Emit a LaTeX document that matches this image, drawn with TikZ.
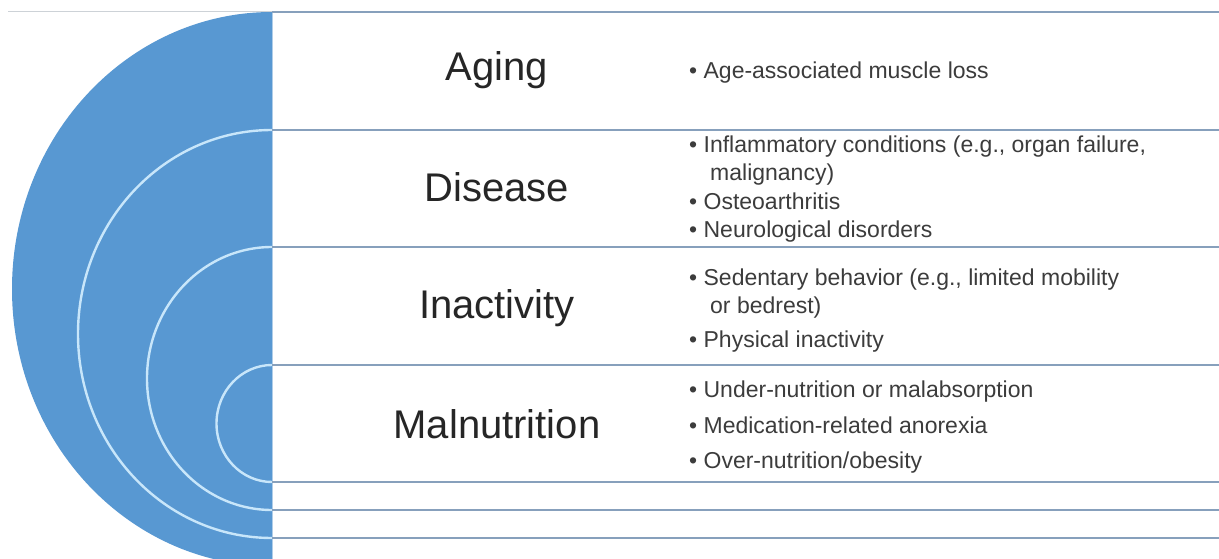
\documentclass[tikz,border=0pt]{standalone}
\usepackage{fontspec}
\setmainfont{Liberation Sans}
\definecolor{diskblue}{RGB}{88,152,210}
\definecolor{arcwhite}{RGB}{200,230,250}
\definecolor{rulecol}{RGB}{135,160,188}
\definecolor{toplight}{RGB}{205,210,215}
\definecolor{edgecol}{RGB}{175,205,232}
\definecolor{titlecol}{RGB}{38,38,38}
\definecolor{bulletcol}{RGB}{60,60,60}
\begin{document}
\begin{tikzpicture}[x=1pt,y=-1pt,
  titlebox/.style={font=\fontsize{40}{48}\selectfont, text=titlecol, anchor=base, inner sep=0pt},
  itembox/.style={font=\fontsize{23}{28}\selectfont, text=bulletcol, anchor=base west, inner sep=0pt},
  rowline/.style={draw=rulecol, line width=1.6pt},
  ring/.style={draw=arcwhite, line width=2.4pt}]
\useasboundingbox (0,0) rectangle (1219,559);
\fill[white] (0,0) rectangle (1219,559);
% half disk with rings
\begin{scope}
  \clip (0,0) rectangle (272,559);
  \fill[diskblue] (272,289) ellipse [x radius=260pt, y radius=277pt];
  \draw[ring] (272,334) ellipse [x radius=194pt, y radius=204pt];
  \draw[ring] (272,378.5) ellipse [x radius=125pt, y radius=131.5pt];
  \draw[ring] (272,423.5) ellipse [x radius=55.5pt, y radius=58.5pt];
\end{scope}
% edge and rules
\draw[edgecol, line width=1pt] (272.5,12) -- (272.5,559);
\draw[toplight, line width=1pt] (8,12) -- (272,12);
\coordinate (r0a) at (272,12);   \coordinate (r0b) at (1219,12);
\coordinate (r1a) at (272,130);  \coordinate (r1b) at (1219,130);
\coordinate (r2a) at (272,247);  \coordinate (r2b) at (1219,247);
\coordinate (r3a) at (272,365);  \coordinate (r3b) at (1219,365);
\coordinate (r4a) at (272,482);  \coordinate (r4b) at (1219,482);
\coordinate (r5a) at (272,510);  \coordinate (r5b) at (1219,510);
\coordinate (r6a) at (272,538);  \coordinate (r6b) at (1219,538);
\foreach \i in {0,...,6} {\draw[rowline] (r\i a) -- (r\i b);}
% titles
\node[titlebox] (aging) at (497,81) {Aging};
\node[titlebox] (disease) at (497,202) {Disease};
\node[titlebox] (inactivity) at (497,318) {Inactivity};
\node[titlebox] (malnutrition) at (497,438) {Malnutrition};
% items
\node[itembox] (a1) at (689,79) {• Age-associated muscle loss};
\node[itembox] (d1) at (689,153) {• Inflammatory conditions (e.g., organ failure,};
\node[itembox] (d1b) at (710,181) {malignancy)};
\node[itembox] (d2) at (689,209) {• Osteoarthritis};
\node[itembox] (d3) at (689,237) {• Neurological disorders};
\node[itembox] (i1) at (689,285) {• Sedentary behavior (e.g., limited mobility};
\node[itembox] (i1b) at (710,313) {or bedrest)};
\node[itembox] (i2) at (689,347) {• Physical inactivity};
\node[itembox] (m1) at (689,397) {• Under-nutrition or malabsorption};
\node[itembox] (m2) at (689,433) {• Medication-related anorexia};
\node[itembox] (m3) at (689,468) {• Over-nutrition/obesity};
\end{tikzpicture}
\end{document}
